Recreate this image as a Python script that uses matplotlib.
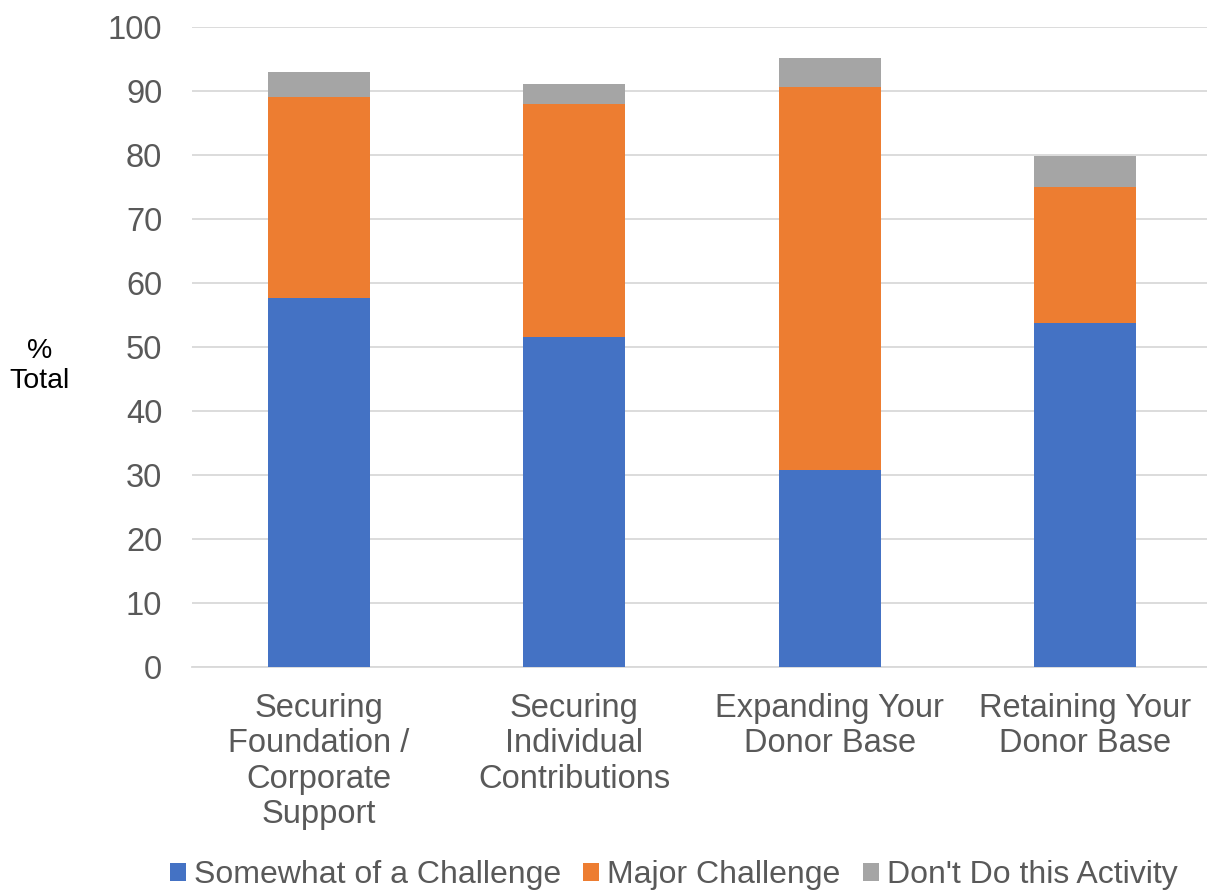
import matplotlib
matplotlib.use("Agg")
import matplotlib.pyplot as plt
import numpy as np

plt.rcParams['font.family'] = ['Liberation Sans', 'DejaVu Sans']

categories = ["Securing\nFoundation /\nCorporate\nSupport",
              "Securing\nIndividual\nContributions",
              "Expanding Your\nDonor Base",
              "Retaining Your\nDonor Base"]
somewhat = [57.7, 51.5, 30.8, 53.8]
major = [31.4, 36.4, 59.9, 21.2]
dont = [3.9, 3.2, 4.4, 4.9]
series_names = ["Somewhat of a Challenge", "Major Challenge", "Don't Do this Activity"]
colors = ["#4472C4", "#ED7D31", "#A5A5A5"]
yticks = list(range(0, 101, 10))

fig = plt.figure(figsize=(12.07, 8.91), dpi=100)
ax = fig.add_axes([191.5/1207, 224/891, 1021/1207, 640/891])

x = np.arange(len(categories))
w = 0.4
b1 = ax.bar(x, somewhat, w, color=colors[0], label=series_names[0], zorder=3)
b2 = ax.bar(x, major, w, bottom=somewhat, color=colors[1], label=series_names[1], zorder=3)
bottom3 = np.array(somewhat) + np.array(major)
b3 = ax.bar(x, dont, w, bottom=bottom3, color=colors[2], label=series_names[2], zorder=3)

ax.set_xlim(-0.5, 3.5)
ax.set_ylim(0, 100)
ax.set_yticks(yticks)
ax.yaxis.grid(True, color="#D9D9D9", linewidth=1.3, zorder=0)
ax.set_axisbelow(True)
for s in ["top", "right", "left"]:
    ax.spines[s].set_visible(False)
ax.spines["bottom"].set_color("#D9D9D9")
ax.spines["bottom"].set_linewidth(1.3)
ax.tick_params(axis="both", length=0, labelsize=23.5, colors="#595959")
ax.tick_params(axis="y", pad=21)
ax.tick_params(axis="x", pad=19)
ax.set_xticks(x)
ax.set_xticklabels(categories, linespacing=1.17)

fig.text(40/1207, 1 - 366/891, "%\nTotal", ha="center", va="center",
         fontsize=20.5, color="#000000", linespacing=1.25)

leg = fig.legend(handles=[b1, b2, b3], labels=series_names, loc="center",
                 bbox_to_anchor=(0.558, 1 - 875/891), ncol=3, frameon=False,
                 fontsize=23, handlelength=0.5, handleheight=0.5,
                 handletextpad=0.25, columnspacing=0.7, borderaxespad=0)
for t in leg.get_texts():
    t.set_color("#595959")

fig.savefig("out.png", dpi=100)
